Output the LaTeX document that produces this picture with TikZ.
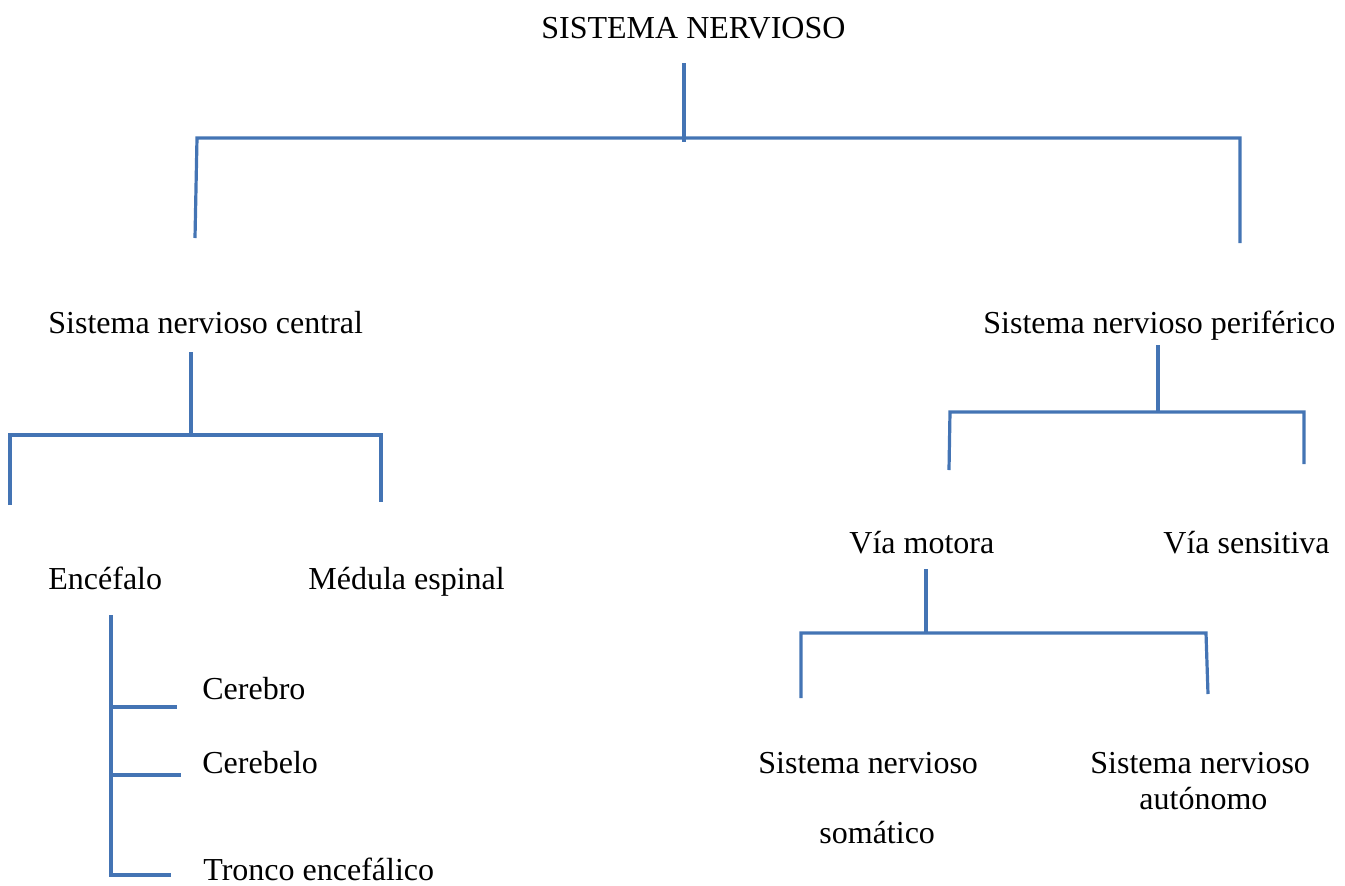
\documentclass[tikz,border=0pt]{standalone}
\usepackage{fontspec}
\setmainfont{Liberation Serif}
\usepackage{xcolor}
\definecolor{wordblue}{RGB}{68,116,180}

\begin{document}
\begin{tikzpicture}[x=0.5pt,y=-0.5pt,
        label/.style={anchor=base west, inner sep=0pt, font=\fontsize{16pt}{18pt}\selectfont},
        branch/.style={line width=1.6pt, wordblue}]
          \useasboundingbox (0,0) rectangle (1345,885);

          %labels
          \node[label] (sn)     at (541,38)   {SISTEMA NERVIOSO};
          \node[label] (snc)    at (48,333)   {Sistema nervioso central};
          \node[label] (snp)    at (983,333)  {Sistema nervioso periférico};
          \node[label] (enc)    at (48,589)   {Encéfalo};
          \node[label] (med)    at (308,589)  {Médula espinal};
          \node[label] (cbro)   at (202,699)  {Cerebro};
          \node[label] (cbelo)  at (202,773)  {Cerebelo};
          \node[label] (tronco) at (203,880)  {Tronco encefálico};
          \node[label] (motora) at (849,553)  {Vía motora};
          \node[label] (sensit) at (1163,553) {Vía sensitiva};
          \node[label] (soma)   at (758,773)  {Sistema nervioso};
          \node[label] (soma2)  at (819,843)  {somático};
          \node[label] (auto)   at (1090,773) {Sistema nervioso};
          \node[label] (auto2)  at (1139,809) {autónomo};

          %sistema nervioso
          \coordinate (sn-top) at (684,63);
          \coordinate (sn-mid) at (684,138);
          \coordinate (sn-l)   at (197,138);
          \coordinate (sn-r)   at (1240,138);
          \draw[branch] (sn-top) -- (684,142);
          \draw[branch] (195,238) -- (sn-l) -- (sn-r) -- (1240,243);

          %central
          \coordinate (snc-top) at (191,352);
          \coordinate (snc-l)   at (10,435);
          \coordinate (snc-r)   at (381,435);
          \draw[branch] (snc-top) -- (191,435);
          \draw[branch] (10,505) -- (snc-l) -- (snc-r) -- (381,502);

          %encefalo
          \coordinate (enc-top) at (111,615);
          \coordinate (enc-bot) at (111,875);
          \draw[branch] (enc-top) -- (enc-bot) -- (171,875);
          \draw[branch] (111,707) -- (177,707);
          \draw[branch] (111,775) -- (181,775);

          %periferico
          \coordinate (snp-top) at (1158,345);
          \coordinate (snp-l)   at (950,412);
          \coordinate (snp-r)   at (1304,412);
          \draw[branch] (snp-top) -- (1158,412);
          \draw[branch] (949,470) -- (snp-l) -- (snp-r) -- (1304,464);

          %via motora
          \coordinate (mot-top) at (926,569);
          \coordinate (mot-l)   at (801,633);
          \coordinate (mot-r)   at (1206,633);
          \draw[branch] (mot-top) -- (926,633);
          \draw[branch] (801,698) -- (mot-l) -- (mot-r) -- (1208,694);
\end{tikzpicture}
\end{document}
